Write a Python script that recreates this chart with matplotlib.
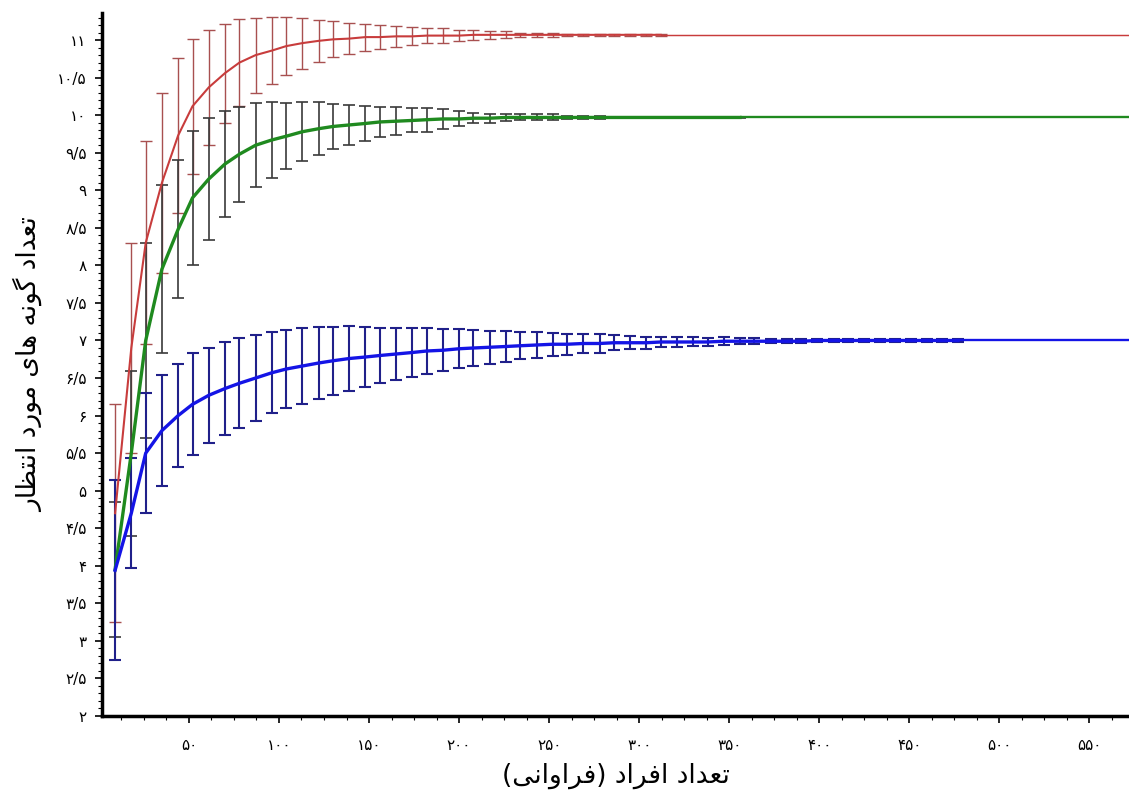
import matplotlib
matplotlib.use("Agg")
import matplotlib.pyplot as plt
from matplotlib.ticker import MultipleLocator, FuncFormatter

# sample sizes (individuals) at which the rarefaction was computed
nafar = [9, 18, 26, 35, 44, 52, 61, 70, 78, 87, 96, 104, 113, 122, 130, 139,
         148, 156, 165, 174, 182, 191, 200, 208, 217, 226, 234, 243, 252, 260,
         269, 278, 286, 295, 304, 312, 321, 330, 338, 347, 356, 364, 373, 382,
         390, 399, 408, 416, 425, 434, 442, 451, 460, 468, 477]

# red series (asymptote ~11)
sorkh_mean = [4.7, 6.9, 8.3, 9.1, 9.73, 10.12, 10.37, 10.56, 10.7, 10.8, 10.86,
              10.92, 10.96, 10.99, 11.01, 11.02, 11.04, 11.04, 11.05, 11.05,
              11.06, 11.06, 11.06, 11.07, 11.07, 11.07, 11.07, 11.07, 11.07,
              11.07, 11.07, 11.07, 11.07, 11.07, 11.07, 11.07]
sorkh_err = [1.45, 1.4, 1.35, 1.2, 1.03, 0.9, 0.77, 0.66, 0.58, 0.5, 0.45, 0.39,
             0.34, 0.28, 0.24, 0.21, 0.18, 0.16, 0.14, 0.12, 0.1, 0.1, 0.07,
             0.07, 0.05, 0.045, 0.03, 0.03, 0.03, 0.01, 0.01, 0.01, 0.01, 0.01,
             0.01, 0.01]

# green series (asymptote ~10)
sabz_mean = [3.95, 5.5, 7.0, 7.95, 8.48, 8.9, 9.15, 9.35, 9.48, 9.6, 9.67, 9.72,
             9.78, 9.82, 9.85, 9.87, 9.89, 9.91, 9.92, 9.93, 9.94, 9.95, 9.95,
             9.96, 9.96, 9.97, 9.97, 9.97, 9.97, 9.97, 9.97, 9.97, 9.97, 9.97,
             9.97, 9.97, 9.97, 9.97, 9.97, 9.97, 9.97]
sabz_err = [0.9, 1.1, 1.3, 1.12, 0.92, 0.89, 0.81, 0.71, 0.63, 0.56, 0.5, 0.44,
            0.39, 0.35, 0.3, 0.27, 0.23, 0.2, 0.19, 0.16, 0.16, 0.13, 0.1, 0.07,
            0.06, 0.05, 0.04, 0.04, 0.04, 0.022, 0.022, 0.022, 0.01, 0.01, 0.01,
            0.01, 0.01, 0.01, 0.01, 0.01, 0.01]

# blue series (asymptote ~7)
abi_mean = [3.94, 4.7, 5.5, 5.8, 6.0, 6.15, 6.27, 6.36, 6.43, 6.5, 6.57, 6.62,
            6.66, 6.7, 6.73, 6.76, 6.78, 6.8, 6.82, 6.84, 6.86, 6.87, 6.89, 6.9,
            6.91, 6.92, 6.93, 6.94, 6.95, 6.95, 6.96, 6.96, 6.97, 6.97, 6.97,
            6.98, 6.98, 6.98, 6.98, 6.99, 6.99, 6.99, 6.99, 6.99, 6.99, 7.0, 7.0,
            7.0, 7.0, 7.0, 7.0, 7.0, 7.0, 7.0, 7.0]
abi_err = [1.2, 0.73, 0.8, 0.74, 0.69, 0.68, 0.63, 0.62, 0.6, 0.57, 0.54, 0.52,
           0.5, 0.48, 0.45, 0.43, 0.4, 0.37, 0.34, 0.32, 0.3, 0.28, 0.26, 0.24,
           0.22, 0.2, 0.18, 0.17, 0.15, 0.14, 0.13, 0.12, 0.1, 0.09, 0.08, 0.07,
           0.07, 0.06, 0.05, 0.05, 0.04, 0.04, 0.03, 0.03, 0.03, 0.02, 0.02,
           0.02, 0.02, 0.02, 0.02, 0.02, 0.02, 0.02, 0.02]

x_ticks = [50, 100, 150, 200, 250, 300, 350, 400, 450, 500, 550]

# Persian labels, already shaped and in visual order
y_label = ("\uFEAD\uFE8E\uFEC8\uFE98\uFEE7\uFE8D \uFEA9\uFEAD\uFEEE\uFEE3 "
           "\uFBFC\uFE8E\uFEEB \uFEEA\uFEE7\uFEEE\uFB94 \uFEA9\uFE8D\uFEAA\uFECC\uFE97")
x_label = ("(\uFBFD\uFEE7\uFE8D\uFEED\uFE8D\uFEAE\uFED3) "
           "\uFEA9\uFE8D\uFEAE\uFED3\uFE8D \uFEA9\uFE8D\uFEAA\uFECC\uFE97")

XMIN, XMAX = 1.7, 572
YMIN, YMAX = 2, 11.36

persian_digits = str.maketrans("0123456789.", "۰۱۲۳۴۵۶۷۸۹/")


def fa(v, pos=None):
    s = f"{v:g}"
    return s.translate(persian_digits)


def rasm_seri(ax, mean, err, line_color, bar_color, lw, elw):
    n = len(mean)
    xs = nafar[:n]
    ax.errorbar(xs, mean, yerr=err, fmt="none", ecolor=bar_color,
                elinewidth=elw, capsize=4, capthick=elw, zorder=2)
    ax.plot(xs, mean, color=line_color, lw=lw, zorder=3)
    # flat continuation after the last sample
    ax.hlines(mean[-1], xs[-1], XMAX, color=line_color, lw=lw * 0.7, zorder=3)


plt.rcParams['font.family'] = ['DejaVu Sans']

fig = plt.figure(figsize=(11.29, 7.92), dpi=100)
ax = fig.add_axes([0.0903, 0.096, 0.9097, 0.8875])

rasm_seri(ax, sorkh_mean, sorkh_err, "#c83c3c", "#a85050", 1.5, 1.0)
rasm_seri(ax, sabz_mean, sabz_err, "#1f8a1f", "#3a3a3a", 2.4, 1.2)
rasm_seri(ax, abi_mean, abi_err, "#1414e6", "#20208a", 2.4, 1.5)

ax.set_xlim(XMIN, XMAX)
ax.set_ylim(YMIN, YMAX)

ax.set_xticks(x_ticks)
ax.xaxis.set_minor_locator(MultipleLocator(12.5))
ax.yaxis.set_major_locator(MultipleLocator(0.5))
ax.yaxis.set_minor_locator(MultipleLocator(0.1))
ax.xaxis.set_major_formatter(FuncFormatter(fa))
ax.yaxis.set_major_formatter(FuncFormatter(fa))

ax.tick_params(axis="both", which="major", direction="out", length=5,
               width=1.2, labelsize=11)
ax.tick_params(axis="both", which="minor", direction="out", length=3,
               width=0.8)
ax.tick_params(axis="x", which="major", pad=11)
ax.tick_params(axis="y", which="major", pad=6)

ax.spines["top"].set_visible(False)
ax.spines["right"].set_visible(False)
ax.spines["left"].set_linewidth(2.5)
ax.spines["bottom"].set_linewidth(2.5)

ax.set_xlabel(x_label, fontsize=19, labelpad=7)
ax.set_ylabel(y_label, fontsize=19, labelpad=10)

fig.savefig("out.png", dpi=100)
